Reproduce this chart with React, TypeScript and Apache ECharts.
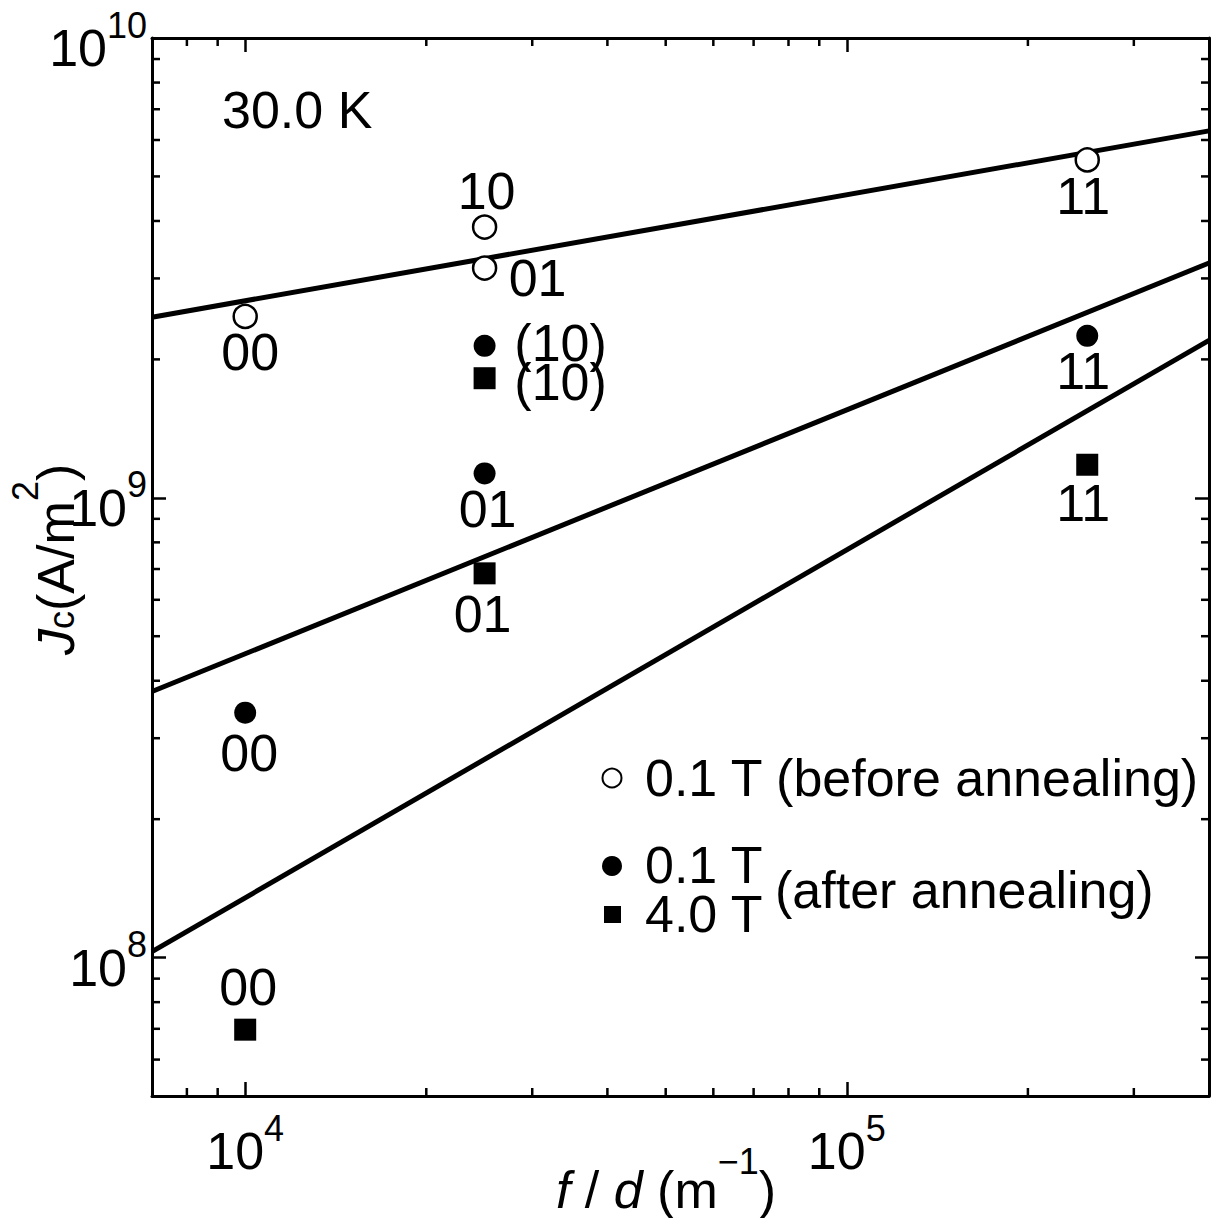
import React, { useEffect, useRef } from "react";
import * as echarts from "echarts";

const FONT = "'Liberation Sans', Arial, Helvetica, sans-serif";

// ---------- data ----------
const sampleX = [1.0e4, 2.5e4, 2.5e4, 2.51e5];
const before01TY = [2.48e9, 3.88e9, 3.16e9, 5.43e9];
const before01TLabels = ["00", "10", "01", "11"];
const after01TY = [3.41e8, 2.14e9, 1.13e9, 2.25e9];
const after01TLabels = ["00", "(10)", "01", "11"];
const after40TY = [6.97e7, 1.82e9, 6.85e8, 1.18e9];
const after40TLabels = ["00", "(10)", "01", "11"];
const fitX = [7.0e3, 4.0e5];
const fitBefore01TY = [2.47e9, 6.28e9];
const fitAfter01TY = [3.79e8, 3.24e9];
const fitAfter40TY = [1.03e8, 2.2e9];
const xRange = [7.0e3, 4.0e5];
const yRange = [5.0e7, 1.0e10];
const tempLabel = "30.0 K";
const legendBefore = "0.1 T (before annealing)";
const legendAfter01 = "0.1 T";
const legendAfter40 = "4.0 T";
const legendAfterNote = "(after annealing)";

// ---------- layout ----------
const W = 1225;
const H = 1218;
const GRID = { left: 152, top: 38, right: 16, bottom: 122 };
const MAJOR = 14;
const MINOR = 8;
const offsBefore = [[5, 36], [2, -36], [53, 10], [-4, 36]];
const offsAfter01 = [[4, 40], [76, -3], [3, 36], [-4, 35]];
const offsAfter40 = [[3, -43], [76, 4], [-2, 41], [-4, 38]];

function minorTicks(min: number, max: number): number[] {
  const out: number[] = [];
  for (let e = Math.floor(Math.log10(min)); e <= Math.ceil(Math.log10(max)); e++) {
    for (let m = 2; m <= 9; m++) {
      const v = m * Math.pow(10, e);
      if (v > min * 1.0001 && v < max * 0.9999) out.push(v);
    }
  }
  return out;
}

function powLabel(v: number): string {
  const e = Math.log10(v);
  const r = Math.round(e);
  if (Math.abs(e - r) > 1e-6) return "";
  return `{b|10}{s|${r}}`;
}

const labelRich = {
  b: { fontSize: 52, fontFamily: FONT, color: "#000", lineHeight: 82 },
  s: { fontSize: 36, fontFamily: FONT, color: "#000", lineHeight: 34, verticalAlign: "top" },
};

function scatterData(ys: number[], labels: string[], offs: number[][]) {
  return sampleX.map((x, i) => ({
    value: [x, ys[i]],
    label: { formatter: labels[i], offset: offs[i] },
  }));
}

const axisLineStyle = { color: "#000", width: 3 };

function makeX(pos: "bottom" | "top", showLabel: boolean) {
  return {
    type: "log",
    logBase: 10,
    position: pos,
    min: xRange[0],
    max: xRange[1],
    axisLine: { show: true, onZero: false, lineStyle: axisLineStyle },
    axisTick: { show: true, inside: true, length: MAJOR, lineStyle: { color: "#000", width: 2.5 } },
    minorTick: { show: false },
    splitLine: { show: false },
    axisLabel: {
      show: showLabel,
      margin: 14,
      formatter: powLabel,
      rich: labelRich,
      showMinLabel: true,
      showMaxLabel: true,
    },
  };
}

function makeY(pos: "left" | "right", showLabel: boolean) {
  return {
    type: "log",
    logBase: 10,
    position: pos,
    min: yRange[0],
    max: yRange[1],
    axisLine: { show: true, onZero: false, lineStyle: axisLineStyle },
    axisTick: { show: true, inside: true, length: MAJOR, lineStyle: { color: "#000", width: 2.5 } },
    minorTick: { show: false },
    splitLine: { show: false },
    axisLabel: {
      show: showLabel,
      margin: 5,
      formatter: powLabel,
      rich: labelRich,
      padding: [20, 0, 0, 0],
      showMinLabel: true,
      showMaxLabel: true,
    },
  };
}

function txt(text: string, x: number, y: number, extra: any = {}) {
  return {
    type: "text",
    x,
    y,
    style: {
      text,
      fontSize: 52,
      fontFamily: FONT,
      fill: "#000",
      align: "left",
      verticalAlign: "middle",
      lineHeight: 40,
      ...extra,
    },
  };
}

export default function App() {
  const ref = useRef<HTMLDivElement>(null);

  useEffect(() => {
    if (!ref.current) return;
    const chart = echarts.init(ref.current, null, { renderer: "svg", width: W, height: H });

    const xMinor = minorTicks(xRange[0], xRange[1]);
    const yMinor = minorTicks(yRange[0], yRange[1]);
    const tickStyle = { stroke: "#000", lineWidth: 2.5 };

    const labelBase = {
      show: true,
      position: "inside",
      fontSize: 52,
      lineHeight: 38,
      fontFamily: FONT,
      color: "#000",
    };

    const option: any = {
      animation: false,
      backgroundColor: "#fff",
      grid: { ...GRID, containLabel: false },
      xAxis: [makeX("bottom", true), makeX("top", false)],
      yAxis: [makeY("left", true), makeY("right", false)],
      series: [
        {
          type: "custom",
          silent: true,
          clip: false,
          z: 10,
          data: xMinor.map((v) => [v, 1e9]),
          renderItem: (params: any, api: any) => {
            const cs = params.coordSys;
            const px = api.coord([api.value(0), api.value(1)])[0];
            return {
              type: "group",
              children: [
                { type: "line", shape: { x1: px, y1: cs.y + cs.height, x2: px, y2: cs.y + cs.height - MINOR }, style: tickStyle },
                { type: "line", shape: { x1: px, y1: cs.y, x2: px, y2: cs.y + MINOR }, style: tickStyle },
              ],
            };
          },
        },
        {
          type: "custom",
          silent: true,
          clip: false,
          z: 10,
          data: yMinor.map((v) => [1e4, v]),
          renderItem: (params: any, api: any) => {
            const cs = params.coordSys;
            const py = api.coord([api.value(0), api.value(1)])[1];
            return {
              type: "group",
              children: [
                { type: "line", shape: { x1: cs.x, y1: py, x2: cs.x + MINOR, y2: py }, style: tickStyle },
                { type: "line", shape: { x1: cs.x + cs.width, y1: py, x2: cs.x + cs.width - MINOR, y2: py }, style: tickStyle },
              ],
            };
          },
        },
        ...[fitBefore01TY, fitAfter01TY, fitAfter40TY].map((ys) => ({
          type: "line",
          silent: true,
          symbol: "none",
          showSymbol: false,
          z: 2,
          lineStyle: { color: "#000", width: 5 },
          data: fitX.map((x, i) => [x, ys[i]]),
        })),
        {
          type: "scatter",
          name: legendBefore,
          silent: true,
          symbol: "circle",
          symbolSize: 23,
          z: 3,
          itemStyle: { color: "#fff", borderColor: "#000", borderWidth: 2.5, opacity: 1 },
          label: labelBase,
          data: scatterData(before01TY, before01TLabels, offsBefore),
        },
        {
          type: "scatter",
          name: legendAfter01,
          silent: true,
          symbol: "circle",
          symbolSize: 22,
          z: 3,
          itemStyle: { color: "#000", opacity: 1 },
          label: labelBase,
          data: scatterData(after01TY, after01TLabels, offsAfter01),
        },
        {
          type: "scatter",
          name: legendAfter40,
          silent: true,
          symbol: "rect",
          symbolSize: 22,
          z: 3,
          itemStyle: { color: "#000", opacity: 1 },
          label: labelBase,
          data: scatterData(after40TY, after40TLabels, offsAfter40),
        },
      ],
      graphic: [
        txt(tempLabel, 222, 110),
        // legend
        { type: "circle", shape: { cx: 612, cy: 778, r: 9.5 }, style: { fill: "#fff", stroke: "#000", lineWidth: 2 } },
        txt(legendBefore, 645, 778),
        { type: "circle", shape: { cx: 612, cy: 866, r: 10 }, style: { fill: "#000" } },
        txt(legendAfter01, 645, 865),
        { type: "rect", shape: { x: 604, y: 906, width: 17, height: 17 }, style: { fill: "#000" } },
        txt(legendAfter40, 645, 914),
        txt(legendAfterNote, 775, 890),
        // x axis title
        {
          type: "text",
          x: 666,
          y: 1190,
          style: {
            text: "{i|f} / {i|d} (m{s|\u22121})",
            fontSize: 52,
            fontFamily: FONT,
            fill: "#000",
            lineHeight: 94,
            align: "center",
            verticalAlign: "middle",
            rich: {
              i: { fontSize: 52, fontFamily: FONT, fontStyle: "italic", fill: "#000", lineHeight: 94 },
              s: { fontSize: 36, fontFamily: FONT, fill: "#000", lineHeight: 36, verticalAlign: "top" },
            },
          },
        },
        // y axis title, built left-to-right in a rotated group
        {
          type: "group",
          x: 56,
          y: 655,
          rotation: Math.PI / 2,
          children: [
            txt("J", 0, 0, { fontStyle: "italic" }),
            txt("c", 26, 5, { fontSize: 36, lineHeight: 30 }),
            txt("(A/m", 44, 0),
            txt("2", 154, -31, { fontSize: 36, lineHeight: 30 }),
            txt(")", 174, 0),
          ],
        },
      ],
    };

    chart.setOption(option);
    return () => {
      chart.dispose();
    };
  }, []);

  return (
    <div
      ref={ref}
      style={{ position: "fixed", left: 0, top: 0, width: W, height: H, background: "#fff" }}
    />
  );
}
